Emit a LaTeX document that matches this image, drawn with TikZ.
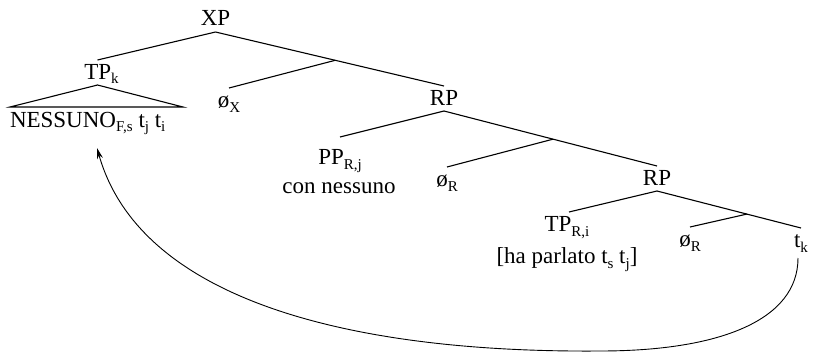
\documentclass[tikz,border=0pt]{standalone}
\usepackage{fontspec}
\setmainfont{Liberation Serif}
\usetikzlibrary{arrows.meta}
\newcommand{\lsb}[1]{\raisebox{-5pt}{\fontsize{15}{15}\selectfont #1}}
\begin{document}
\begin{tikzpicture}[x=1pt,y=-1pt,
  lab/.style={inner sep=0pt,outer sep=0pt,anchor=base,text height=19pt,text depth=6pt,font=\fontsize{23}{27}\selectfont},
  edge/.style={line width=1.1pt},
  mv/.style={line width=0.9pt,-{Stealth[length=11pt,width=6pt]}}]
\useasboundingbox (0,0) rectangle (814,353);
% labels
\node[lab] (xp) at (215.5,26) {XP};
\node[lab] (tpk) at (101.5,79) {TP\lsb{k}};
\node[lab,anchor=base west] (nes) at (10,127) {NESSUNO\lsb{F,s} t\lsb{j} t\lsb{i}};
\node[lab] (phix) at (229,107) {ø\lsb{X}};
\node[lab] (rp1) at (444,105) {RP};
\node[lab] (pp) at (340,164) {PP\lsb{R,j}};
\node[lab] (ppx) at (339,193) {con nessuno};
\node[lab] (phir1) at (447,186) {ø\lsb{R}};
\node[lab] (rp2) at (657,185) {RP};
\node[lab] (tpri) at (567,231) {TP\lsb{R,i}};
\node[lab] (tprix) at (567,263) {[ha parlato t\lsb{s} t\lsb{j}]};
\node[lab] (phir2) at (690,246) {ø\lsb{R}};
\node[lab] (tk) at (801,247) {t\lsb{k}};
\coordinate (tl) at (10,107);
\coordinate (tr) at (183,107);
\coordinate (tip) at (97,148);
% tree
\draw[edge] (xp.south) -- ([xshift=-4pt]tpk.north);
\draw[edge] (xp.south) -- coordinate[pos=0.524] (b1) (rp1.north);
\draw[edge] (b1) -- (phix.north);
\draw[edge] ([xshift=-4pt]tpk.south) -- (tl) -- (tr) -- cycle;
\draw[edge] (rp1.south) -- ([yshift=8pt]pp.north);
\draw[edge] (rp1.south) -- coordinate[pos=0.512] (b2) (rp2.north);
\draw[edge] (b2) -- (phir1.north);
\draw[edge] (rp2.south) -- ([xshift=2pt]tpri.north);
\draw[edge] (rp2.south) -- coordinate[pos=0.624] (b3) (tk.north);
\draw[edge] (b3) -- (phir2.north);
% movement
\draw[mv] ([xshift=-3pt,yshift=-5pt]tk.south) .. controls (798,320) and (720,351) .. (600,351)
  .. controls (350,353) and (140,300) .. (tip);
\end{tikzpicture}
\end{document}
